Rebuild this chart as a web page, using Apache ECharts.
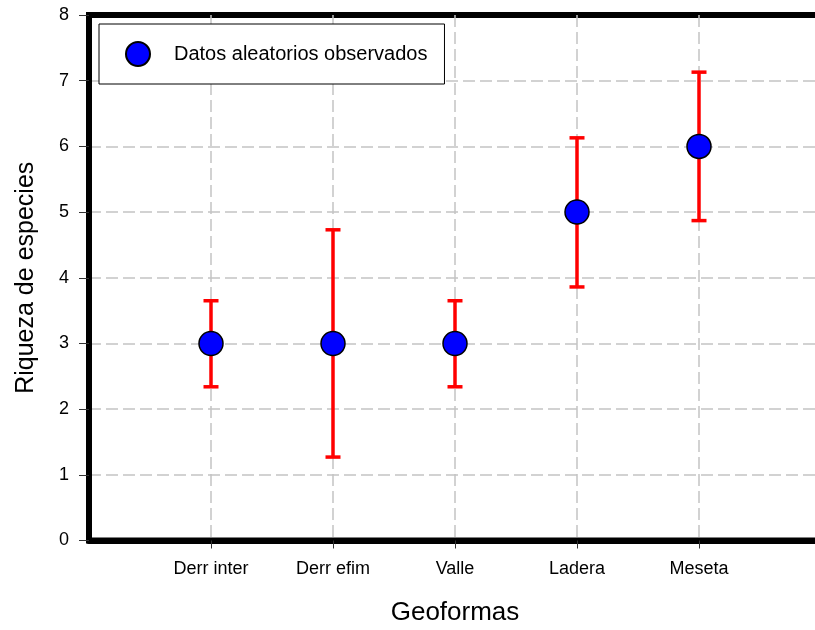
<!DOCTYPE html>
<html>
<head>
<meta charset="utf-8">
<title>Riqueza de especies por geoforma</title>
<script src="https://cdn.jsdelivr.net/npm/echarts@6/dist/echarts.min.js"></script>
<style>
  html, body { margin: 0; padding: 0; background: #fff; }
  #chart { width: 815px; height: 630px; }
</style>
</head>
<body>
<div id="chart"></div>
<script>
// Landforms along the x axis, placed at positions 1..5
const categories = ['Derr inter', 'Derr efim', 'Valle', 'Ladera', 'Meseta'];
const categoryPositions = [1, 2, 3, 4, 5];
// Observed species richness per landform
const meanValues = [3, 3, 3, 5, 6];
// Error bar limits
const lowerValues = [2.34, 1.27, 2.34, 3.86, 4.87];
const upperValues = [3.65, 4.73, 3.65, 6.13, 7.13];
const yTicks = [0, 1, 2, 3, 4, 5, 6, 7, 8];

const seriesName = 'Datos aleatorios observados';
const FONT = 'Liberation Sans, Arial, sans-serif';

const pointData = meanValues.map((v, i) => [categoryPositions[i], v]);
const barData = meanValues.map((v, i) => [categoryPositions[i], lowerValues[i], upperValues[i]]);

const chart = echarts.init(document.getElementById('chart'), null, { renderer: 'canvas' });

const dashed = { color: '#c4c4c4', width: 1.5, type: [12, 5] };

chart.setOption({
  animation: false,
  backgroundColor: '#ffffff',
  textStyle: { fontFamily: FONT },
  grid: {
    left: 89,
    top: 15,
    width: 732,
    height: 525.5,
    show: true,
    borderColor: '#000',
    borderWidth: 6,
    containLabel: false,
    outerBoundsMode: 'none'
  },
  legend: {
    show: true,
    data: [seriesName],
    left: 99,
    top: 24,
    orient: 'vertical',
    backgroundColor: '#fff',
    borderColor: '#000',
    borderWidth: 1,
    borderRadius: 0,
    padding: [17, 17, 17, 26],
    itemWidth: 24,
    itemHeight: 24,
    icon: 'circle',
    textStyle: { fontSize: 20, color: '#000', fontFamily: FONT, padding: [0, 0, 0, 19] }
  },
  xAxis: {
    type: 'value',
    min: 0,
    max: 6,
    interval: 1,
    name: 'Geoformas',
    nameLocation: 'middle',
    nameGap: 59,
    nameTextStyle: { fontSize: 26, color: '#000', fontFamily: FONT },
    axisLine: { show: true, lineStyle: { color: '#000', width: 6 } },
    axisTick: { show: true, length: 8, customValues: categoryPositions, lineStyle: { color: '#333', width: 1 } },
    axisLabel: {
      show: true,
      margin: 20,
      fontSize: 18,
      color: '#000',
      fontFamily: FONT,
      customValues: categoryPositions,
      formatter: v => categories[categoryPositions.indexOf(v)] || ''
    },
    splitLine: { show: true, lineStyle: dashed }
  },
  yAxis: {
    type: 'value',
    min: yTicks[0],
    max: yTicks[yTicks.length - 1],
    interval: 1,
    name: 'Riqueza de especies',
    nameLocation: 'middle',
    nameGap: 50,
    nameTextStyle: { fontSize: 25, color: '#000', fontFamily: FONT },
    axisLine: { show: true, lineStyle: { color: '#000', width: 6 } },
    axisTick: { show: true, length: 10, lineStyle: { color: '#333', width: 1 } },
    axisLabel: { show: true, margin: 20, fontSize: 18, color: '#000', fontFamily: FONT },
    splitLine: { show: true, showMinLine: false, showMaxLine: false, lineStyle: dashed }
  },
  series: [
    {
      name: 'errores',
      type: 'custom',
      z: 3,
      silent: true,
      data: barData,
      renderItem: function (params, api) {
        const x = api.value(0);
        const top = api.coord([x, api.value(2)]);
        const bottom = api.coord([x, api.value(1)]);
        const half = 7.5;
        const style = { stroke: '#ff0000', lineWidth: 3.5 };
        return {
          type: 'group',
          children: [
            { type: 'line', shape: { x1: top[0], y1: top[1], x2: bottom[0], y2: bottom[1] }, style: style },
            { type: 'line', shape: { x1: top[0] - half, y1: top[1], x2: top[0] + half, y2: top[1] }, style: style },
            { type: 'line', shape: { x1: bottom[0] - half, y1: bottom[1], x2: bottom[0] + half, y2: bottom[1] }, style: style }
          ]
        };
      }
    },
    {
      name: seriesName,
      type: 'scatter',
      z: 5,
      symbol: 'circle',
      symbolSize: 24,
      data: pointData,
      itemStyle: { color: '#0000ff', borderColor: '#000', borderWidth: 1.5, opacity: 1 }
    }
  ]
});
</script>
</body>
</html>
